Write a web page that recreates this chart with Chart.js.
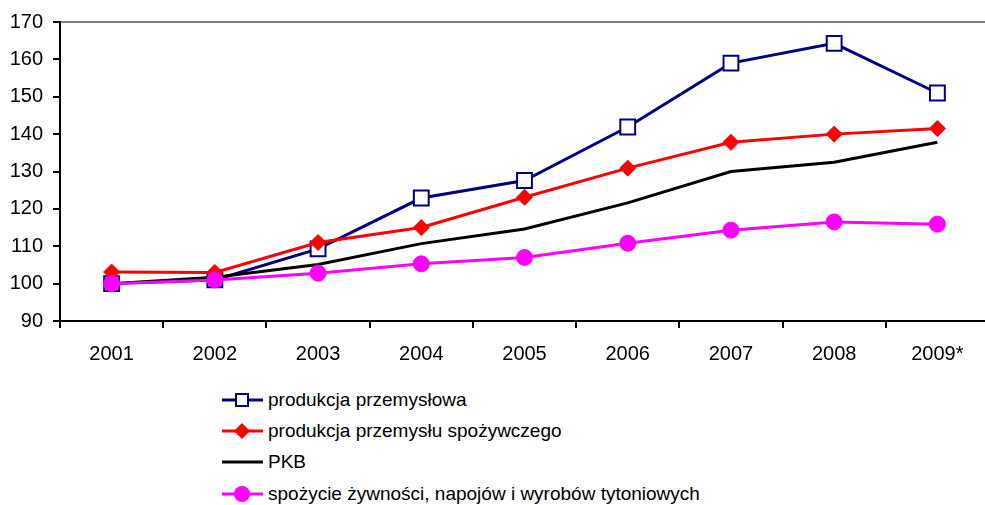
<!DOCTYPE html>
<html>
<head>
<meta charset="utf-8">
<script src="https://cdn.jsdelivr.net/npm/chart.js@4/dist/chart.umd.min.js"></script>
<style>
  html, body { margin: 0; padding: 0; background: #fff; overflow: hidden; }
  #wrap { position: relative; width: 990px; height: 380px; }
  #legend { position: absolute; left: 222px; top: 384px; font-family: "Liberation Sans", Arial, sans-serif; font-size: 19px; color: #000; }
  .item { display: flex; align-items: center; height: 31.3px; }
  .item svg { margin-right: 5px; }
</style>
</head>
<body>
<div id="wrap"><canvas id="lineChart" width="990" height="380"></canvas></div>
<div id="legend"></div>
<script>
// data (index, 2001 = 100)
const years = ['2001', '2002', '2003', '2004', '2005', '2006', '2007', '2008', '2009*'];
const industry = [100, 101, 109.3, 122.9, 127.6, 141.9, 159, 164.3, 151];
const foodIndustry = [103.1, 103, 111, 115, 123.1, 130.9, 137.8, 140, 141.5];
const gdp = [100, 101.7, 105.1, 110.7, 114.6, 121.6, 130, 132.5, 137.8];
const consumption = [100, 101, 102.8, 105.3, 107, 110.8, 114.3, 116.5, 115.9];
const yTicks = [90, 100, 110, 120, 130, 140, 150, 160, 170];

const seriesNames = [
  'produkcja przemysłowa',
  'produkcja przemysłu spożywczego',
  'PKB',
  'spożycie żywności, napojów i wyrobów tytoniowych'
];

const font = { family: '"Liberation Sans", Arial, sans-serif', size: 20 };

const lineCtx = document.getElementById('lineChart').getContext('2d');
new Chart(lineCtx, {
  type: 'line',
  data: {
    labels: years,
    datasets: [
      {
        label: seriesNames[0],
        data: industry,
        borderColor: '#000080',
        borderWidth: 3,
        pointStyle: 'rect',
        pointRadius: 10.5,
        pointBackgroundColor: '#ffffff',
        pointBorderColor: '#000080',
        pointBorderWidth: 2,
        order: 3
      },
      {
        label: seriesNames[1],
        data: foodIndustry,
        borderColor: '#ff0000',
        borderWidth: 3,
        pointStyle: 'rectRot',
        pointRadius: 8,
        pointBackgroundColor: '#ff0000',
        pointBorderColor: '#ff0000',
        pointBorderWidth: 1,
        order: 2
      },
      {
        label: seriesNames[2],
        data: gdp,
        borderColor: '#000000',
        borderWidth: 3,
        pointRadius: 0,
        order: 1
      },
      {
        label: seriesNames[3],
        data: consumption,
        borderColor: '#ff00ff',
        borderWidth: 3,
        pointStyle: 'circle',
        pointRadius: 8,
        pointBackgroundColor: '#ff00ff',
        pointBorderColor: '#ff00ff',
        pointBorderWidth: 1,
        order: 0
      }
    ]
  },
  options: {
    responsive: false,
    animation: false,
    layout: { autoPadding: false, padding: { top: 19, right: 1, left: 0, bottom: 0 } },
    plugins: {
      legend: { display: false },
      tooltip: { enabled: false }
    },
    scales: {
      x: {
        offset: true,
        border: { color: '#000', width: 2 },
        grid: { offset: true, color: 'transparent', tickColor: '#000', tickLength: 7, lineWidth: 2 },
        ticks: { color: '#000', font: font, padding: 14, maxRotation: 0 },
        afterFit: (scale) => {
          scale.height = 59;
          scale.paddingLeft = 0;
          scale.paddingRight = 0;
        }
      },
      y: {
        min: 90,
        max: 170,
        border: { color: '#000', width: 2 },
        grid: {
          color: (c) => (c.tick && c.tick.value === 170 ? '#808080' : 'transparent'),
          tickColor: '#000',
          tickLength: 7,
          lineWidth: 2
        },
        afterBuildTicks: (scale) => { scale.ticks = yTicks.map((v) => ({ value: v })); },
        ticks: { color: '#000', font: font, padding: 10 },
        afterFit: (scale) => { scale.width = 60; }
      }
    }
  }
});

// legend as a vertical list under the plot
const legendMarks = [
  '<rect x="14" y="6" width="12" height="12" fill="#fff" stroke="#000080" stroke-width="2"/>',
  '<polygon points="20,4 28,12 20,20 12,12" fill="#ff0000"/>',
  '',
  '<circle cx="20" cy="12" r="8" fill="#ff00ff"/>'
];
const legendColors = ['#000080', '#ff0000', '#000000', '#ff00ff'];
const legendEl = document.getElementById('legend');
seriesNames.forEach((name, i) => {
  const row = document.createElement('div');
  row.className = 'item';
  row.innerHTML = '<svg width="41" height="24"><line x1="0" y1="12" x2="41" y2="12" stroke="' +
    legendColors[i] + '" stroke-width="3"/>' + legendMarks[i] + '</svg><span>' + name + '</span>';
  legendEl.appendChild(row);
});
</script>
</body>
</html>
